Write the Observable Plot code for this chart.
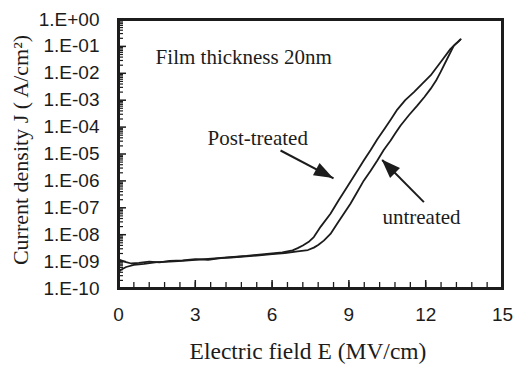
<!DOCTYPE html>
<html><head><meta charset="utf-8">
<script src="https://cdn.jsdelivr.net/npm/d3@7"></script>
<script src="https://cdn.jsdelivr.net/npm/@observablehq/plot@0.6"></script>
<style>
html,body{margin:0;padding:0;background:#fff;}
</style>
</head><body><div id="chart"></div>
<script>
// Post-treated curve: electric field (MV/cm) and current density (A/cm^2)
const postE = [0.00,0.10,0.30,0.60,1.00,1.50,2.00,2.50,3.00,3.50,4.00,4.50,5.00,5.50,6.00,6.40,6.80,7.00,7.20,7.45,7.63,7.90,8.28,8.60,8.93,9.25,9.58,9.85,10.11,10.40,10.65,10.89,11.20,11.54,11.85,12.19,12.58,12.97,13.20,13.36];
const postJ = [4.0e-10,5.0e-10,6.3e-10,7.6e-10,8.3e-10,9.5e-10,1.0e-9,1.07e-9,1.15e-9,1.26e-9,1.38e-9,1.48e-9,1.62e-9,1.82e-9,2.0e-9,2.19e-9,2.63e-9,3.16e-9,3.98e-9,5.62e-9,8.13e-9,2.0e-8,6.03e-8,1.91e-7,5.89e-7,1.82e-6,5.75e-6,1.41e-5,3.55e-5,8.9e-5,2.0e-4,4.47e-4,1.0e-3,2.0e-3,3.98e-3,8.3e-3,2.57e-2,8.1e-2,1.32e-1,1.82e-1];
// Untreated curve
const untrE = [0.00,0.10,0.30,0.50,0.80,1.20,1.60,2.00,2.50,3.00,3.50,4.00,4.50,5.00,5.50,6.00,6.50,7.00,7.40,7.63,7.80,8.02,8.28,8.54,8.80,9.06,9.32,9.58,9.85,10.11,10.36,10.63,10.82,11.02,11.35,11.67,11.95,12.19,12.40,12.58,12.84,13.10,13.28,13.36];
const untrJ = [1.2e-9,1.12e-9,9.5e-10,8.5e-10,8.9e-10,1.0e-9,9.3e-10,1.07e-9,1.12e-9,1.23e-9,1.17e-9,1.35e-9,1.45e-9,1.58e-9,1.70e-9,1.91e-9,2.09e-9,2.40e-9,2.69e-9,3.31e-9,4.17e-9,6.03e-9,1.07e-8,2.57e-8,6.03e-8,1.41e-7,3.8e-7,1.02e-6,2.4e-6,5.75e-6,1.41e-5,3.16e-5,6.0e-5,1.15e-4,2.82e-4,6.3e-4,1.32e-3,2.63e-3,5.25e-3,1.1e-2,3.47e-2,1.07e-1,1.51e-1,1.82e-1];

const xTicks = [0,3,6,9,12,15];
const xMinorStep = 0.6;
const yTicks = [1,1e-1,1e-2,1e-3,1e-4,1e-5,1e-6,1e-7,1e-8,1e-9,1e-10];
const yTickLabels = ["1.E+00","1.E-01","1.E-02","1.E-03","1.E-04","1.E-05","1.E-06","1.E-07","1.E-08","1.E-09","1.E-10"];

const noteText = ["Film thickness 20nm","Post-treated","untreated"];
const noteE = [1.45,3.48,10.31];
const noteJ = [3.8e-2,3.7e-5,4.3e-8];

const arrowStartE = [6.33,11.93];
const arrowStartJ = [1.35e-5,1.62e-7];
const arrowEndE = [8.40,10.30];
const arrowEndJ = [1.23e-6,6.0e-6];

const xTitle = "Electric field E (MV/cm)";
const yTitle = "Current density J ( A/cm\u00B2)";

// build tables
const series = [
  ...postE.map((e,i)=>({E:e,J:postJ[i],s:"Post-treated"})),
  ...untrE.map((e,i)=>({E:e,J:untrJ[i],s:"untreated"}))
];
const arrows = arrowStartE.map((e,i)=>({x1:e,y1:arrowStartJ[i],x2:arrowEndE[i],y2:arrowEndJ[i]}));
const notes = noteText.map((t,i)=>({t,E:noteE[i],J:noteJ[i]}));
const xMinor = d3.range(0, 15 + 1e-9, xMinorStep);
const yMinor = [];
for (let k = -10; k < 0; k++) for (let m = 2; m <= 9; m++) yMinor.push(m * Math.pow(10, k));

const W = 514, H = 368, mL = 118, mR = 12, mT = 19, mB = 80;
const fW = W - mL - mR, fH = H - mT - mB;
const ink = "#1c1c1c";
const serif = "'Liberation Serif','Times New Roman',serif";

function arrowHeads(index, scales) {
  const g = d3.create("svg:g");
  for (const a of arrows) {
    const x1 = scales.x(a.x1), y1 = scales.y(a.y1);
    const x2 = scales.x(a.x2), y2 = scales.y(a.y2);
    const ang = Math.atan2(y2 - y1, x2 - x1);
    const L = 19, Wd = 7;
    const bx = x2 - L * Math.cos(ang), by = y2 - L * Math.sin(ang);
    const px = -Math.sin(ang) * Wd, py = Math.cos(ang) * Wd;
    g.append("path")
      .attr("d", `M${x2},${y2}L${bx + px},${by + py}L${bx - px},${by - py}Z`)
      .attr("fill", ink);
  }
  return g.node();
}

const chart = Plot.plot({
  width: W, height: H,
  marginLeft: mL, marginRight: mR, marginTop: mT, marginBottom: mB,
  style: {fontFamily: "'Liberation Sans',Arial,sans-serif", fontSize: "18px", color: ink, background: "#fff"},
  x: {domain: [0, 15]},
  y: {type: "log", domain: [1e-10, 1]},
  marks: [
    Plot.tickX(xMinor, {x: d => d, insetTop: fH - 6, stroke: ink, strokeWidth: 1.3}),
    Plot.tickX(xTicks, {x: d => d, insetTop: fH - 8, stroke: ink, strokeWidth: 1.5}),
    Plot.tickY(yMinor, {y: d => d, insetRight: fW - 5, stroke: ink, strokeWidth: 1.2}),
    Plot.tickY(yTicks, {y: d => d, insetRight: fW - 8, stroke: ink, strokeWidth: 1.5}),
    Plot.line(series, {x: "E", y: "J", z: "s", stroke: ink, strokeWidth: 1.8}),
    Plot.link(arrows, {x1: "x1", y1: "y1", x2: "x2", y2: "y2", stroke: ink, strokeWidth: 2}),
    arrowHeads,
    Plot.text(notes, {x: "E", y: "J", text: "t", textAnchor: "start", lineAnchor: "middle", fontFamily: serif, fontSize: 21, fill: ink}),
    Plot.frame({stroke: ink, strokeWidth: 3}),
    Plot.axisX(xTicks, {tickSize: 0, tickPadding: 19, fontSize: 19, label: null}),
    Plot.axisY(yTicks, {tickSize: 0, tickPadding: 19, fontSize: 19, label: null,
      tickFormat: d => yTickLabels[yTicks.indexOf(d)]}),
    Plot.text([xTitle], {frameAnchor: "bottom", text: d => d, textAnchor: "middle", dx: -2.5, dy: 62.5, lineAnchor: "middle", fontFamily: serif, fontSize: 23.5, fill: ink}),
    Plot.text([yTitle], {frameAnchor: "left", text: d => d, textAnchor: "middle", rotate: -90, dx: -98, dy: -4, lineAnchor: "middle", fontFamily: serif, fontSize: 22, fill: ink})
  ]
});
document.getElementById("chart").appendChild(chart);
</script>
</body></html>
